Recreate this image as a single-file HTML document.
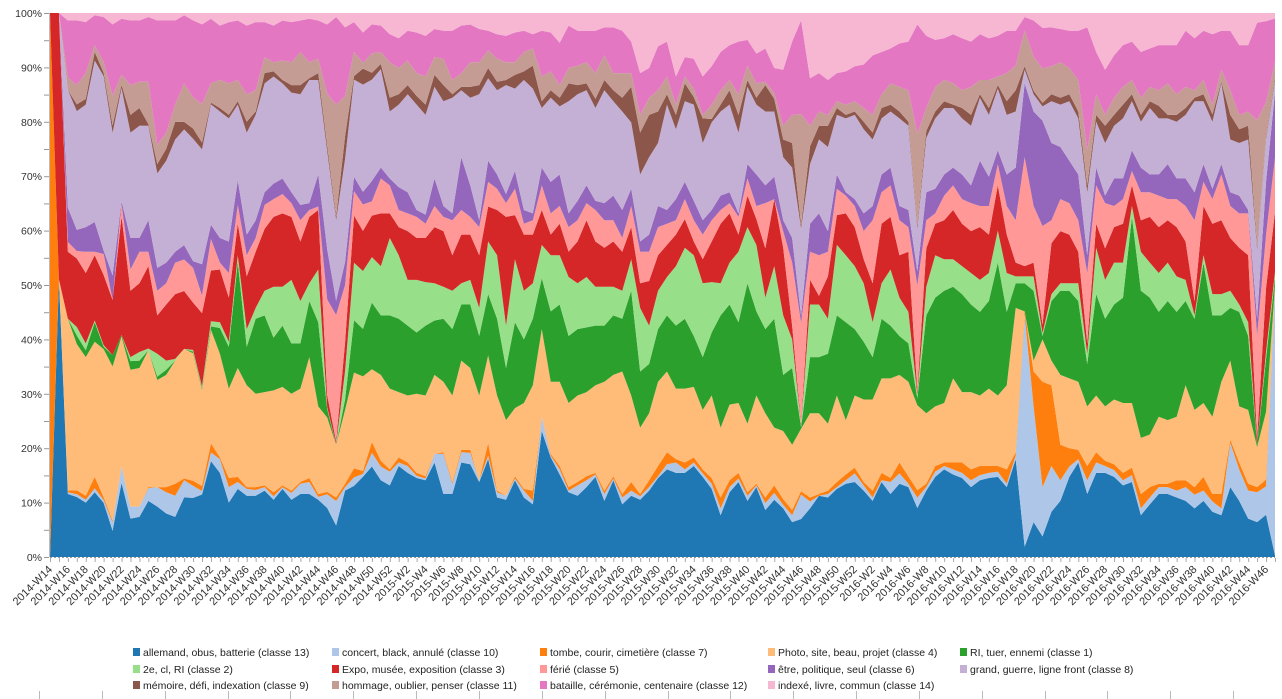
<!DOCTYPE html>
<html><head><meta charset="utf-8"><title>Stacked area chart</title>
<style>
html,body{margin:0;padding:0;background:#fff;}
svg{display:block;font-family:"Liberation Sans",sans-serif;}
</style></head>
<body>
<svg id="chart" width="1282" height="699" viewBox="0 0 1282 699" xmlns="http://www.w3.org/2000/svg">
<rect x="0" y="0" width="1282" height="699" fill="#ffffff"/>
<g id="areas"></g>
<g id="yaxis"></g>
<g id="xaxis"></g>
<g id="legend"></g>
<g id="bottomticks"></g>
</svg>
<script>
const c13 = [0,51,11,10.5,9.5,11.3,9.5,4.6,13,6.7,7,9.8,8.8,7.6,7,10.4,10.4,11,16.8,14.7,9.5,11.9,10.7,10.7,11.6,10,11.9,10,11,11,10,8.5,5.5,11.6,12.5,14,15.9,13.4,12.5,15.9,14.7,13.8,13.4,16.5,11,11,16.5,16.2,13.1,17.1,10.4,10,13.4,10.4,9.2,22,17.4,14.4,11.3,10.7,12.2,14,9.8,13.4,9.2,10.7,10,11.6,13.8,15.3,14.7,14.7,15.9,14,11.9,7.3,11.3,13.1,9.8,12.2,8.2,10,8.5,6.1,6.7,8.5,10.7,10.4,11.9,12.8,13.1,11.6,9.8,13.1,11,12.8,12.2,8.5,11.6,14,15.3,14.4,13.8,12.2,13.4,13.8,14,12.2,17.1,1.8,6.1,3.6,7.9,9.8,14,16.5,11,14.7,14.7,14,12.5,13.1,7.3,9.2,11,11,10.4,9.8,8.5,9.8,7.9,7.3,12.2,9.8,6.7,6.1,7.3,0.3];
const c10 = [0,0,.3,.5,.5,.7,.5,1.5,2.9,2.1,1.8,2.2,3.4,3.7,3.7,3,2.1,.6,1.5,2.4,2.7,1.2,1.2,1,.6,.6,.3,1.2,1.8,2.1,.5,2.4,4.3,.6,1.5,.5,2.4,2.4,2.4,.6,1.2,.4,.3,1.5,7,1.8,1.8,2,.3,.6,.9,.7,.3,1.2,.6,2.5,.3,.9,.3,1.8,1.2,.4,1.2,.3,1.2,.9,.6,.6,.3,.9,1.8,.6,.6,.6,.9,1.2,.9,.6,.9,.3,1.2,1.2,.6,1.2,4.3,1.2,0,.6,.3,.6,1.5,.9,.6,.3,2.1,1.8,.6,1.8,.6,.9,.6,.9,.9,1.2,.9,.9,.9,.6,.6,40.4,20.2,8.6,8,3.6,1.8,.6,2.4,1.8,1.2,1.2,.9,1.2,1.2,1.2,1.2,1.2,1.2,2.4,2.4,1.8,1.8,1.2,7.7,5.5,4.9,5.2,4.9,49];
const c7 = [100,0,.3,.7,.7,2,.5,.3,0,0,0,.2,0,.9,2.1,.3,.9,.9,1.6,.3,1.6,.9,.3,.5,.3,.7,.3,.4,.3,.7,.5,.4,.6,.6,1.6,.5,1.9,1,.4,.9,.6,.5,.4,0,.3,.3,.4,.5,0,2.2,.3,0,.4,.3,1.8,0,.3,.6,.6,.6,.7,.3,.6,.4,.6,1.5,.4,1.2,1.8,2.1,.6,1.2,.9,.7,1,1.9,1.2,1,.6,.3,1,1.3,1,.9,.6,.7,.3,.6,.9,1,1,.6,1.2,1.3,.7,1.9,1.3,1.3,.6,1,.6,1.2,1.8,1.9,1.6,1.2,1,2.5,.6,.7,6.1,18.4,14.1,6.2,3.2,1.6,2.5,1.8,.9,1,1.3,1.3,2.5,1.8,.6,.6,1.8,1.2,1.3,2.4,1.3,2.5,.6,1.2,1.2,.9,1.2,0];
const c4 = [0,0,30,25.6,24.2,23.6,26,27,22.7,23.9,24.2,23.9,18.7,19.6,21.5,22.6,22.4,16.9,19.9,18.1,15.6,19,17.8,16.3,16.3,17.8,17.2,16.9,16.3,21.1,15.3,12.9,9.2,12.9,16.8,16.5,12.8,15,14.1,11.4,11.7,13.8,14.1,13.8,12.3,15.1,15.6,14.3,14.8,15.3,16.6,13.2,11.9,15,18.4,15.3,12.6,14.7,14.7,15.1,14.7,15.3,19,17.7,21.4,15.1,11.6,11.7,14.7,14.1,12.3,12.9,12.3,10.4,14.4,12.2,13.2,12.2,12,15.4,14.7,10.1,11.9,11.4,11,14.7,14.1,11.7,15.1,9.5,12.6,14.4,15.9,16.5,17.4,15.3,16.5,14.7,12.3,10.4,10.4,14.7,12.3,13.5,12.3,13.5,12.3,14.7,25.2,0,1.9,7.4,4.3,12.2,12.2,11.9,10.4,9.9,9.5,11.3,12.2,11.3,9.8,9.2,11.7,11.1,11.1,16.6,13.5,12.9,13.5,19.6,13.8,9.8,12.9,7,11.7,.5];
const c1 = [0,0,0,1.5,1.2,3.4,.4,2,.3,1.5,1.3,0,.6,.9,0,0,.3,.3,.6,4.5,7.3,18.5,6.7,13.1,13.4,9.2,10.7,8.8,7.9,9.8,14.7,1.5,0,1.8,9.2,8.3,11.7,10.4,12.8,12.8,12.2,10.7,12.2,9.5,11,11.6,9.8,11.1,10.4,10.7,13.4,9.1,15,11.1,11.6,8.9,12.3,13.5,11.7,11.6,11.3,10.4,9.8,10.4,9.2,18.3,9.8,8.6,9.2,9.8,11,12.2,8.9,9.2,11,19.6,17.5,14.1,24.5,14.7,14.7,19,9.8,13.4,.3,9.8,9.8,12.2,14,17.1,11.6,10.1,7.4,10.4,9.2,6.8,6.7,1.2,17.1,19,19.6,16,17.1,15.3,14.6,15.3,23.2,12.8,4.3,4.9,12.2,.6,10.4,14.7,15.3,14.1,7.4,17.7,15.3,16.6,18.4,32.5,25.7,23.9,18.3,20.8,18.3,14.7,15.9,24.5,17.7,11.6,9.2,16.5,12.9,.4,9.2,1.5];
const c2 = [0,0,0,1.5,1.2,.3,.3,0,0,.7,1.5,.3,4,1.6,.3,0,.3,.3,.9,1,.9,1.2,3.1,1.9,4.3,8.9,6.8,11.1,7.4,3.1,9.2,.3,.1,5,10.1,10.1,8,8.6,13.5,11.1,8,9.2,7.6,6.5,5.6,6.7,3.7,4.3,4.9,9.2,11.1,7.4,11,8.5,6.2,5.8,9.8,8.6,10.3,8,8.8,6.8,6.8,5,4.9,5.5,11.1,6.7,6.7,6.7,10.4,12.4,14.1,12.9,8.8,5.6,7.3,12.3,9.8,11.6,5.5,9.2,10.4,5,.3,9.2,9.2,6.1,12.3,11.7,11,10.2,6.1,6.2,9.8,6.7,5.5,.6,5,7.4,5.5,4.8,4.9,5.5,5.6,4.9,5.6,6.8,1.2,1.2,2.5,.5,1.2,1.3,1.3,3.1,1.8,8.1,6.8,7.3,6.1,1.9,6.8,6.1,6.8,6.7,6.2,3.7,.6,1.3,3.7,3.7,3,1.3,2.4,.1,1.2,1];
const c3 = [0,49,11.7,12,12.3,11.4,12.3,9.7,20.8,11.6,12,14.4,6.7,9.8,11.3,10.1,8.3,12.9,8.9,9.2,7.7,5.5,9.2,9.8,10.8,12.2,12.8,11,10.4,11.6,10.4,2.1,.5,5,8.3,7,7.3,9.2,4.3,4.9,8.5,7.3,7.7,9.8,9.7,6.2,8.5,7.9,9.2,6.1,7.9,19,7.7,9.8,8.5,6.1,3.6,5.5,4.4,7.3,9.9,7.9,6.8,7.9,6.8,5.6,4.3,7.8,6.2,5.6,5.5,5,2.4,4.2,7.1,10.4,8.6,3,5.5,4.5,8.6,11.7,11.8,2.4,.3,4.3,1.5,7.4,5.2,7.3,6.8,4.2,6.8,10.4,9.2,7.4,10.5,.6,6.7,5.5,6.8,8.6,7.4,7.3,9.2,6.7,7.9,6.7,2.4,1.8,2.4,1.5,8.9,9.1,8.5,5.5,1.8,4.2,5.5,6.2,6.8,3.6,5.5,8,8,7.4,8.6,6.7,2.5,8.6,12.3,12.9,9.2,9.9,11.7,1,11,11];
const c5 = [0,0,1.7,1.3,3.7,.6,3.7,0,2.1,3.7,5.5,2.5,4.3,3.7,5.5,5.5,6.1,3.1,5.5,1.2,4.3,3.3,3.7,2.4,4.2,3.1,3.4,2.4,3.7,1.2,.6,16.6,22.1,10,4.3,4.6,2.5,6.1,4.9,3,3.1,3.7,2.5,3.7,2.5,6.1,4.3,3.1,4.9,4.3,3.7,2.4,4.6,1.9,2.5,4.3,3.7,3.1,4.3,3.7,3,5.5,4.8,3.7,2.4,3.7,5.5,5.1,4.9,3.7,2.5,3.5,3.7,4.3,3.7,2.4,1.8,3.1,3,2.3,7.9,0,2.9,11,17.8,4.9,7.1,4.3,4.6,3.1,3.7,4.9,11,5.5,5.5,6.1,4.3,18.4,4.9,1.8,4.3,4.3,4.3,4.9,3.7,5,3.7,5,7.4,19,9.9,17.2,4,5.6,5.5,5.5,12.3,6.7,7.9,3.7,4.3,2.5,4.9,4.3,5.5,3.7,4.9,6.2,14.1,4.2,4.3,8,5.6,6,7.3,18,9.2,10];
const c6 = [0,0,6,3.7,4.3,5.2,.6,4.3,.5,5.5,2.4,5.5,4,3.6,1.9,2.5,1.2,5.5,2.5,4.3,5.5,4.3,3.6,3.1,2.2,2.7,2.7,1.9,2.7,1.2,5.6,8.7,2.5,4,2.5,2.2,3.6,1.9,1.2,4,3.7,1.2,1.6,4.8,1.9,1.2,9.2,5.5,1.2,3.7,2.5,1.6,3.1,2.4,1.2,3.1,5.5,5.5,2.4,3.4,3.1,1.6,3,4.3,4.9,3,1.8,3,3.7,2.4,3.7,3,3.4,2.5,1.8,2.5,1.9,.6,2.5,5.5,3.1,3.9,1.9,4.3,1.2,4.9,7.3,3.6,2.5,.6,1.2,3.1,2.5,3.1,3.1,2.5,3,2.4,4.9,4.3,3.7,3.1,4.3,3.1,7.9,5.1,2.4,5.5,9.2,12.9,16.5,18.4,13.5,9.1,7.4,8,3.1,3.1,1.3,4.8,3.6,3.6,4.3,3.1,3.7,6.1,3.6,4.8,4.9,3.1,1.8,1.8,2.4,3.1,.6,3,9.2,12];
const c8 = [0,0,20.5,20.8,21.4,28.2,30.6,25,19.8,18.4,19.6,16.5,16.5,17.8,19.6,20.2,21.5,20.2,21.1,22.1,21.5,13.2,17.8,18.4,19,18.7,16.6,17.4,19.3,21.5,16.5,17,14.1,18,17.1,18.7,17.8,17.2,11.7,14.4,17.1,18.4,17.4,16,18.3,20.2,11.7,15.3,22,14.4,14.7,19,14.4,22.7,21.8,10.4,14.7,11.9,19.6,18.6,16.6,16.2,19.7,16.5,17.2,11.6,11.7,13.5,11,18.4,12.2,14.1,16.8,13.5,15.3,14.7,15.3,14.1,13.5,12.2,12.9,11.4,11,12.3,15.4,10.4,12.9,14.7,10.4,12.9,14.7,14.7,11.6,9.8,9.8,15.3,14.7,7.4,9.5,12.3,11.6,10.4,9.8,10.4,11,10.8,10.8,10.4,9.8,2.4,3,2.5,7.3,7.4,10.4,9.8,11,8,9.2,9.2,10.5,8.6,8,11.6,9.8,8,9.9,11.1,15.9,11,11.7,14.1,9.2,9.2,12.3,12,7.3,2];
const c9 = [0,0,0,1.2,1,1.5,.6,1.3,.6,3.1,3.1,.3,1.6,2.1,3.1,1.3,1.8,1.2,.3,.6,.6,.6,1.9,.6,1.8,.9,.6,1.3,1.6,.3,1.2,1,.6,4,.6,2.8,1.2,.9,2.4,1.8,1.6,1.5,1.8,2.1,2.8,.6,.6,1.9,1.6,1.8,1.5,.9,2.4,1.5,4,1.2,1.3,1.5,3.1,1.6,1.2,1.6,1.8,1.9,2.4,6.2,7.3,7.4,5.5,1.8,2.5,3.1,1.3,4.3,.6,1.2,2.5,3.1,1.2,1.2,4.6,2.2,3.1,4.3,.6,3.1,2.4,3.7,1.2,.6,.6,1.3,1.2,1.8,1.2,1.2,.7,.6,1.2,1.2,1.2,.6,1.8,1.9,.6,1.2,.6,2.4,3.7,.6,.6,.6,1.2,1.2,1.2,1.2,1.2,1.2,3,1.9,2.4,1.2,1.2,1.2,2.2,.6,1.2,1.2,.6,1.2,1.3,.3,4.3,2.4,2.4,.6,.4,.5];
const c11 = [0,0,2.2,3.4,4.5,1.2,1.9,5.2,1.8,5.2,4.6,7.4,3.4,2.8,3,6.7,5.5,6.8,3.4,4.9,5.5,3.7,4.8,3.7,2.8,1.6,3.4,4,5.8,2.8,2.5,9,19.6,7,4.3,1,3.4,2.1,6.2,4.6,4.3,4,4.9,3.1,4.6,2.5,2.4,4.3,4,3.1,4,3.1,2.2,3.4,3,4.3,3.3,2.2,2.7,3.4,3.7,4.5,4.3,3,4.3,2.4,3.1,3,3.7,3.1,1.8,1.2,1.5,.6,2.5,2.5,1.8,3.6,2.5,2.5,.6,1,2.4,4.9,19.6,3.6,2.5,1.9,1.2,1.8,1.8,2.4,3.1,2.4,3.7,4.3,5.5,15.9,4,4.3,3.7,3.7,3.1,4.9,2.5,4.9,1.5,4.9,4.3,6.2,6,6,4.9,6.2,4.6,5.5,6.1,3.6,1.9,3,3.1,2.5,3,2.5,2.7,5.5,3.6,3.7,1.3,2.5,1.7,2.1,4.3,2.5,2.5,22,6,3];
const c12 = [0,0,10,11.3,8.9,5.2,7.9,12.5,9.8,11.3,10.7,11.3,21.7,19.6,14.7,11.9,13.5,14,11.3,9.5,10.7,10.4,12,11.9,6.1,6.4,7,7,5.5,7.6,6.7,12,15.3,12,5.2,5.3,5.1,4.6,4.9,5.2,5.2,7.1,7.1,4.9,4.9,8.6,8.3,6.6,5.8,3.4,4.3,4.6,5.2,3.7,2.5,8,6.8,7.4,7.4,6.1,5.5,7.4,4.9,8,7.4,5.5,7.3,5.2,7.7,6.1,4.9,3.4,5.2,6.7,6.7,6.7,6.1,9.2,4.5,5.2,5.8,4.4,9.8,12.8,16.5,8.3,6.7,6.1,4.9,5.8,6.1,7.6,10.4,7.4,6.1,7.6,8.5,18.9,12.6,8.2,7.3,8.6,9.1,7.9,8,7.3,7.1,7.4,6.1,2.4,6.3,7.1,6.8,5.8,6.5,8.6,21.5,7.4,7.9,7.4,7.3,6.7,8,6.7,7.9,6.7,8.6,9.8,9.1,8.6,12.3,6.8,10.4,12.2,11.6,17,14,8];
const c14 = [0,0,1.3,1.3,1.6,.4,.7,2,1,1.3,1.3,.7,1.3,1.3,1.3,.4,1.3,2,1,2.2,1.6,1.3,2.2,1.6,1.6,2.2,1.3,1.6,1.3,1,1.3,2,.7,2.5,1.6,3.4,2,2.2,3.7,4.4,3.1,3.4,4,2.8,3.1,3.1,2.2,2,2.8,3.1,3.7,4,3.4,3.1,3.7,3.1,3.4,5.2,2.2,3.1,3.1,3.1,2.5,2.5,3.1,5,10.5,9.6,5.8,5,11.1,7.7,8,11.1,9.3,6.8,5.6,5,4.7,7.1,6.2,9.6,9.9,5,1.3,11.4,10.5,11.7,10.5,10.2,9.3,9,7.4,6.8,6.2,5.3,5,2,4,4.7,4.4,3.7,4.4,5,3.7,4.4,4,3.1,3.1,.7,1.3,2.6,2.5,2.8,3.1,3.1,2.5,6.8,9.9,7.4,5.6,5,6.8,6.2,5.6,5.6,5.6,3.1,4.4,3.1,3.7,3.1,3.1,5.6,5.6,1.7,1.4,1];

const seriesNames = ["allemand, obus, batterie (classe 13)","concert, black, annulé (classe 10)","tombe, courir, cimetière (classe 7)","Photo, site, beau, projet (classe 4)","RI, tuer, ennemi (classe 1)","2e, cl, RI (classe 2)","Expo, musée, exposition (classe 3)","férié (classe 5)","être, politique, seul (classe 6)","grand, guerre, ligne front (classe 8)","mémoire, défi, indexation (classe 9)","hommage, oublier, penser (classe 11)","bataille, cérémonie, centenaire (classe 12)","indexé, livre, commun (classe 14)"];
const seriesColors = ["#1f77b4","#aec7e8","#ff7f0e","#ffbb78","#2ca02c","#98df8a","#d62728","#ff9896","#9467bd","#c5b0d5","#8c564b","#c49c94","#e377c2","#f7b6d2"];
const yTicks = [0,10,20,30,40,50,60,70,80,90,100];
const yearStarts = [[2014,14,52],[2015,1,52],[2016,1,47]];

const categories = [];
yearStarts.forEach(function(y){ for(let w=y[1]; w<=y[2]; w++){ categories.push(y[0]+"-W"+w); } });

const series = [c13,c10,c7,c4,c1,c2,c3,c5,c6,c8,c9,c11,c12,c14];
const NS = "http://www.w3.org/2000/svg";
const PL = 50, PR = 1275, PT = 13, PB = 557;
const n = categories.length;
function xScale(i){ return PL + i*(PR-PL)/(n-1); }
function yScale(v){ return PB - v*(PB-PT)/100; }
function mk(tag, attrs, parent){ const e=document.createElementNS(NS,tag); for(const k in attrs){ e.setAttribute(k,attrs[k]); } parent.appendChild(e); return e; }

// stacked normalized
const totals = [];
for(let i=0;i<n;i++){ let s=0; series.forEach(function(a){ s+=a[i]; }); totals.push(s); }
const areas = document.getElementById('areas');
let base = new Array(n).fill(0);
series.forEach(function(arr, si){
  const top = base.map(function(b,i){ return b + arr[i]*100/totals[i]; });
  let d = "M";
  for(let i=0;i<n;i++){ d += xScale(i).toFixed(2)+","+yScale(top[i]).toFixed(2)+" L"; }
  for(let i=n-1;i>=0;i--){ d += xScale(i).toFixed(2)+","+yScale(base[i]).toFixed(2)+(i>0?" L":" Z"); }
  const p = mk('path',{d:d, fill:seriesColors[si], stroke:'none'}, areas);
  
  
  base = top;
});

// y axis
const ya = document.getElementById('yaxis');
const yl = mk('line',{x1:49.5,y1:PT,x2:49.5,y2:PB,stroke:'#bbb','stroke-width':1}, ya);


for(let v=0; v<=100; v+=5){
  const t = mk('line',{x1:44,y1:yScale(v)+0.5,x2:49,y2:yScale(v)+0.5,stroke:'#999','stroke-width':1}, ya);
  
  
}
yTicks.forEach(function(v){
  const t = mk('text',{x:42,y:yScale(v)+4,'text-anchor':'end','font-size':'10.5px',fill:'#333'}, ya);
  t.textContent = v+"%";
  
  
});

// x axis
const xa = document.getElementById('xaxis');
const xl = mk('line',{x1:PL,y1:PB+0.5,x2:PR,y2:PB+0.5,stroke:'#999','stroke-width':1,'stroke-dasharray':'2,2'}, xa);


for(let i=0;i<n;i++){
  const tk = mk('line',{x1:xScale(i)+0.5,y1:PB+1,x2:xScale(i)+0.5,y2:PB+5,stroke:'#aaa','stroke-width':1}, xa);
  
  
  if(i%2===0){
    const x = xScale(i)+3, y = 570;
    const t = mk('text',{x:x,y:y,'text-anchor':'end','font-size':'11px',fill:'#333',transform:'rotate(-45 '+x+' '+y+')'}, xa);
    t.textContent = categories[i];
    
    
  }
}

// legend
const lg = document.getElementById('legend');
const colX = [133,332,540,768,960];
const rowY = [652,669,685];
seriesNames.forEach(function(name, si){
  const c = si%5, r = Math.floor(si/5);
  const g = mk('g',{}, lg);
  
  
  mk('rect',{x:colX[c],y:rowY[r]-4,width:7,height:8,fill:seriesColors[si]}, g);
  const t = mk('text',{x:colX[c]+10,y:rowY[r]+4,'font-size':'10.5px',fill:'#222'}, g);
  t.textContent = name;
});

// bottom ruler ticks
const bt = document.getElementById('bottomticks');
for(let x=39; x<1282; x+=62.85){
  const l = mk('line',{x1:Math.round(x)+0.5,y1:691,x2:Math.round(x)+0.5,y2:699,stroke:'#bbb','stroke-width':1}, bt);
  
  
}
</script>
</body></html>
